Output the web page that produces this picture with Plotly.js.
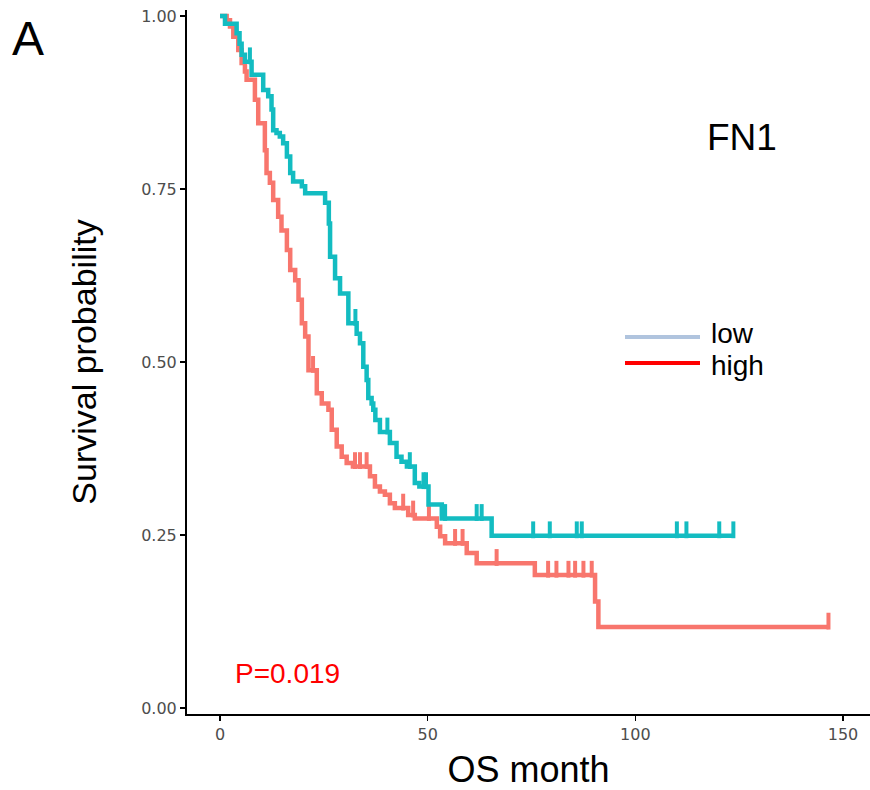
<!DOCTYPE html>
<html><head><meta charset="utf-8">
<script src="https://cdn.plot.ly/plotly-3.0.1.min.js"></script>
<style>html,body{margin:0;padding:0;background:#fff}</style>
</head><body><div id="chart" style="width:870px;height:790px"></div>
<script>
// ---- data ----
const groupNames = ["low", "high"];
const lowTime = [0, 1.2, 4.0, 4.7, 5.2, 6.0, 7.6, 10.4, 11.6, 12.4, 12.8, 13.6, 14.4, 15.2, 16.1, 16.9, 17.6, 19.7, 20.5, 25.3, 26.2, 26.5, 27.7, 28.9, 30.9, 32.9, 33.7, 34.5, 35.3, 35.7, 36.5, 36.9, 37.4, 38.5, 40.9, 42.5, 43.7, 45.0, 46.9, 48.0, 50.2, 53.4, 65.4, 123.6];
const lowSurv = [1.0, 0.989, 0.975, 0.960, 0.944, 0.934, 0.915, 0.893, 0.884, 0.865, 0.835, 0.831, 0.826, 0.816, 0.797, 0.773, 0.761, 0.754, 0.744, 0.730, 0.700, 0.652, 0.621, 0.599, 0.556, 0.541, 0.527, 0.493, 0.474, 0.448, 0.440, 0.431, 0.416, 0.399, 0.383, 0.363, 0.356, 0.349, 0.325, 0.320, 0.294, 0.274, 0.249, 0.249];
const lowCensor = [7.2, 32.6, 40.3, 45.7, 49.0, 49.6, 54.2, 61.8, 63.0, 75.4, 79.4, 85.9, 87.1, 110.0, 112.3, 120.2, 123.6];
const highTime = [0, 1.6, 2.4, 3.2, 4.4, 5.2, 6.0, 6.4, 8.4, 9.2, 10.8, 11.2, 12.0, 12.8, 14.0, 14.8, 16.1, 16.9, 18.1, 18.9, 19.7, 20.5, 21.3, 23.3, 24.5, 26.1, 26.9, 28.1, 29.3, 30.5, 32.0, 36.1, 37.3, 38.5, 39.7, 40.9, 42.1, 45.3, 46.9, 52.2, 53.0, 54.2, 59.4, 61.8, 75.8, 90.3, 91.1, 146.5];
const highSurv = [1.0, 0.994, 0.985, 0.970, 0.951, 0.932, 0.920, 0.908, 0.879, 0.845, 0.806, 0.773, 0.759, 0.734, 0.710, 0.690, 0.662, 0.633, 0.618, 0.590, 0.556, 0.537, 0.488, 0.455, 0.440, 0.431, 0.402, 0.378, 0.363, 0.354, 0.349, 0.335, 0.320, 0.313, 0.308, 0.296, 0.289, 0.279, 0.274, 0.262, 0.248, 0.238, 0.224, 0.209, 0.192, 0.154, 0.117, 0.117];
const highCensor = [22.4, 32.5, 33.7, 35.3, 44.1, 46.5, 50.3, 56.6, 58.4, 66.6, 79.0, 81.0, 83.9, 85.5, 87.5, 89.5, 146.5];
const xTicks = [0, 50, 100, 150];
const yTicks = [0, 0.25, 0.5, 0.75, 1];
const yTickText = ["0.00", "0.25", "0.50", "0.75", "1.00"];
const geneName = "FN1";
const pValueText = "P=0.019";

// ---- helpers ----
function stepAt(times, surv, t) {
  let s = surv[0];
  for (let i = 0; i < times.length; i++) { if (times[i] <= t) s = surv[i]; else break; }
  return s;
}
const W = 870, H = 790, L = 187, R = 0, T = 10, B = 76;
const px = x => (x - L) / (W - L - R);
const py = y => (H - B - y) / (H - T - B);
const font = "Liberation Sans, Arial, Helvetica, sans-serif";
const tickFont = "DejaVu Sans, Liberation Sans, Arial, sans-serif";
const cLow = "#13BCC1", cHigh = "#F8766D";
const censorLift = 0.0085;

function curve(times, surv, color) {
  return {x: times, y: surv, type: "scatter", mode: "lines", line: {shape: "hv", color: color, width: 4.5}, showlegend: false, hoverinfo: "skip"};
}
function censors(ct, times, surv, color) {
  return {x: ct, y: ct.map(t => stepAt(times, surv, t) + censorLift), type: "scatter", mode: "markers",
    marker: {symbol: "line-ns", size: 12, line: {color: color, width: 4}}, showlegend: false, hoverinfo: "skip"};
}

const data = [
  curve(highTime, highSurv, cHigh),
  censors(highCensor, highTime, highSurv, cHigh),
  curve(lowTime, lowSurv, cLow),
  censors(lowCensor, lowTime, lowSurv, cLow)
];

const axisCommon = {showline: true, linecolor: "#000", linewidth: 2, ticks: "outside", ticklen: 5, tickwidth: 1.5, tickcolor: "#000",
  showgrid: false, zeroline: false, tickfont: {family: tickFont, size: 16, color: "#4D4D4D"}};

const layout = {
  width: W, height: H, margin: {l: L, r: R, t: T, b: B}, paper_bgcolor: "#fff", plot_bgcolor: "#fff",
  showlegend: false,
  xaxis: Object.assign({}, axisCommon, {range: [-7.95, 156.5], tickvals: xTicks,
    title: {text: "OS month", font: {family: font, size: 36, color: "#000"}, standoff: 16}}),
  yaxis: Object.assign({}, axisCommon, {range: [-0.0087, 1.0087], tickvals: yTicks, ticktext: yTickText,
    title: {text: "Survival probability", font: {family: font, size: 34, color: "#000"}, standoff: 34}}),
  shapes: [
    {type: "line", xref: "paper", yref: "paper", x0: px(625), x1: px(700), y0: py(337), y1: py(337), line: {color: "#B0C4DE", width: 4}},
    {type: "line", xref: "paper", yref: "paper", x0: px(625), x1: px(700), y0: py(363), y1: py(363), line: {color: "#FF0000", width: 4}}
  ],
  annotations: [
    {text: "A", xref: "paper", yref: "paper", x: px(10), y: py(38), xanchor: "left", yanchor: "middle", showarrow: false, font: {family: font, size: 48, color: "#000"}},
    {text: geneName, xref: "paper", yref: "paper", x: px(742), y: py(138), xanchor: "center", yanchor: "middle", showarrow: false, font: {family: font, size: 37, color: "#000"}},
    {text: pValueText, xref: "paper", yref: "paper", x: px(233), y: py(673), xanchor: "left", yanchor: "middle", showarrow: false, font: {family: font, size: 28, color: "#FF0000"}},
    {text: groupNames[0], xref: "paper", yref: "paper", x: px(709), y: py(333), xanchor: "left", yanchor: "middle", showarrow: false, font: {family: font, size: 28, color: "#000"}},
    {text: groupNames[1], xref: "paper", yref: "paper", x: px(709), y: py(366), xanchor: "left", yanchor: "middle", showarrow: false, font: {family: font, size: 28, color: "#000"}}
  ]
};

Plotly.newPlot("chart", data, layout, {displayModeBar: false, staticPlot: true});
</script>
</body></html>
